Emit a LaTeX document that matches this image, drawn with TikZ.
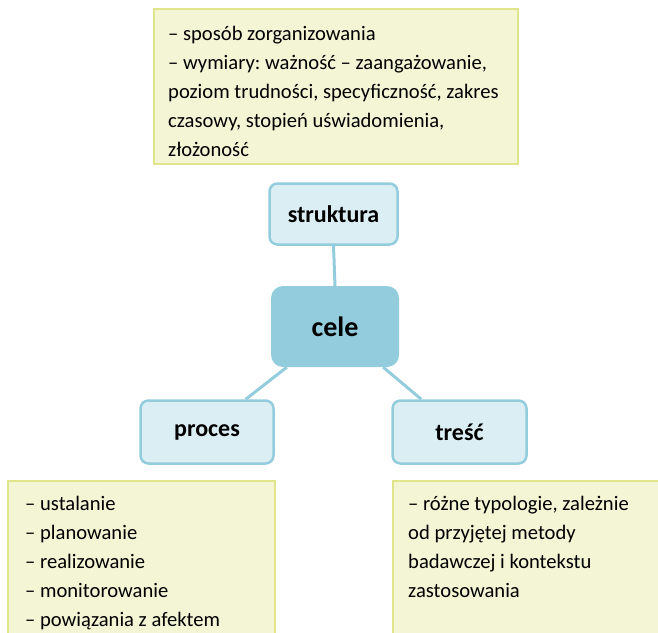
\documentclass[tikz,border=0pt]{standalone}
\usepackage{fontspec}
\setmainfont{Carlito}
\frenchspacing
\definecolor{noteFill}{HTML}{F3F5D5}
\definecolor{noteEdge}{HTML}{E0E58C}
\definecolor{tagFill}{HTML}{DAEEF3}
\definecolor{tagEdge}{HTML}{93CDDD}
\begin{document}
\begin{tikzpicture}[x=1pt,y=-1pt,
  notebox/.style={draw=noteEdge,fill=noteFill,line width=2.5pt},
  notetext/.style={anchor=north west,inner sep=0pt,align=left,
    font=\fontsize{20.6}{29}\selectfont},
  tagbox/.style={draw=tagEdge,fill=tagFill,line width=2.5pt,rounded corners=8pt,
    font=\fontsize{24}{28}\selectfont\bfseries},
  hubbox/.style={fill=tagEdge,rounded corners=12pt,
    font=\fontsize{28}{32}\selectfont\bfseries},
  link/.style={draw=tagEdge,line width=3pt}]
\useasboundingbox (0,0) rectangle (658,632);
\clip (0,0) rectangle (658,632);

% note boxes
\path[notebox] (154,9) rectangle (518,164);
\path[notebox] (8,481) rectangle (275,660);
\path[notebox] (393,481) rectangle (680,660);

\node[notetext] (topnote) at (168,25.5) {%
– sposób zorganizowania\\
– wymiary: ważność – zaangażowanie,\\
poziom trudności, specyficzność, zakres\\
czasowy, stopień uświadomienia,\\
złożoność};

\node[notetext] (leftnote) at (25,495.5) {%
– ustalanie\\
– planowanie\\
– realizowanie\\
– monitorowanie\\
– powiązania z afektem};

\node[notetext] (rightnote) at (408,495.5) {%
– różne typologie, zależnie\\
od przyjętej metody\\
badawczej i kontekstu\\
zastosowania};

% concept boxes
\node[tagbox,minimum width=128pt,minimum height=61pt] (struk) at (333.5,214) {struktura};
\node[hubbox,minimum width=128pt,minimum height=81pt] (cele) at (335,326.5) {cele};
\node[tagbox,minimum width=133pt,minimum height=63pt] (proces) at (207,432) {proces};
\node[tagbox,minimum width=134pt,minimum height=63pt] (tresc) at (459.5,432) {treść};

% connectors
\draw[link] (struk.south) -- (cele.north);
\draw[link] ([xshift=16pt]cele.south west) -- ([xshift=-29pt]proces.north east);
\draw[link] ([xshift=-16pt]cele.south east) -- ([xshift=30pt]tresc.north west);
\end{tikzpicture}
\end{document}
